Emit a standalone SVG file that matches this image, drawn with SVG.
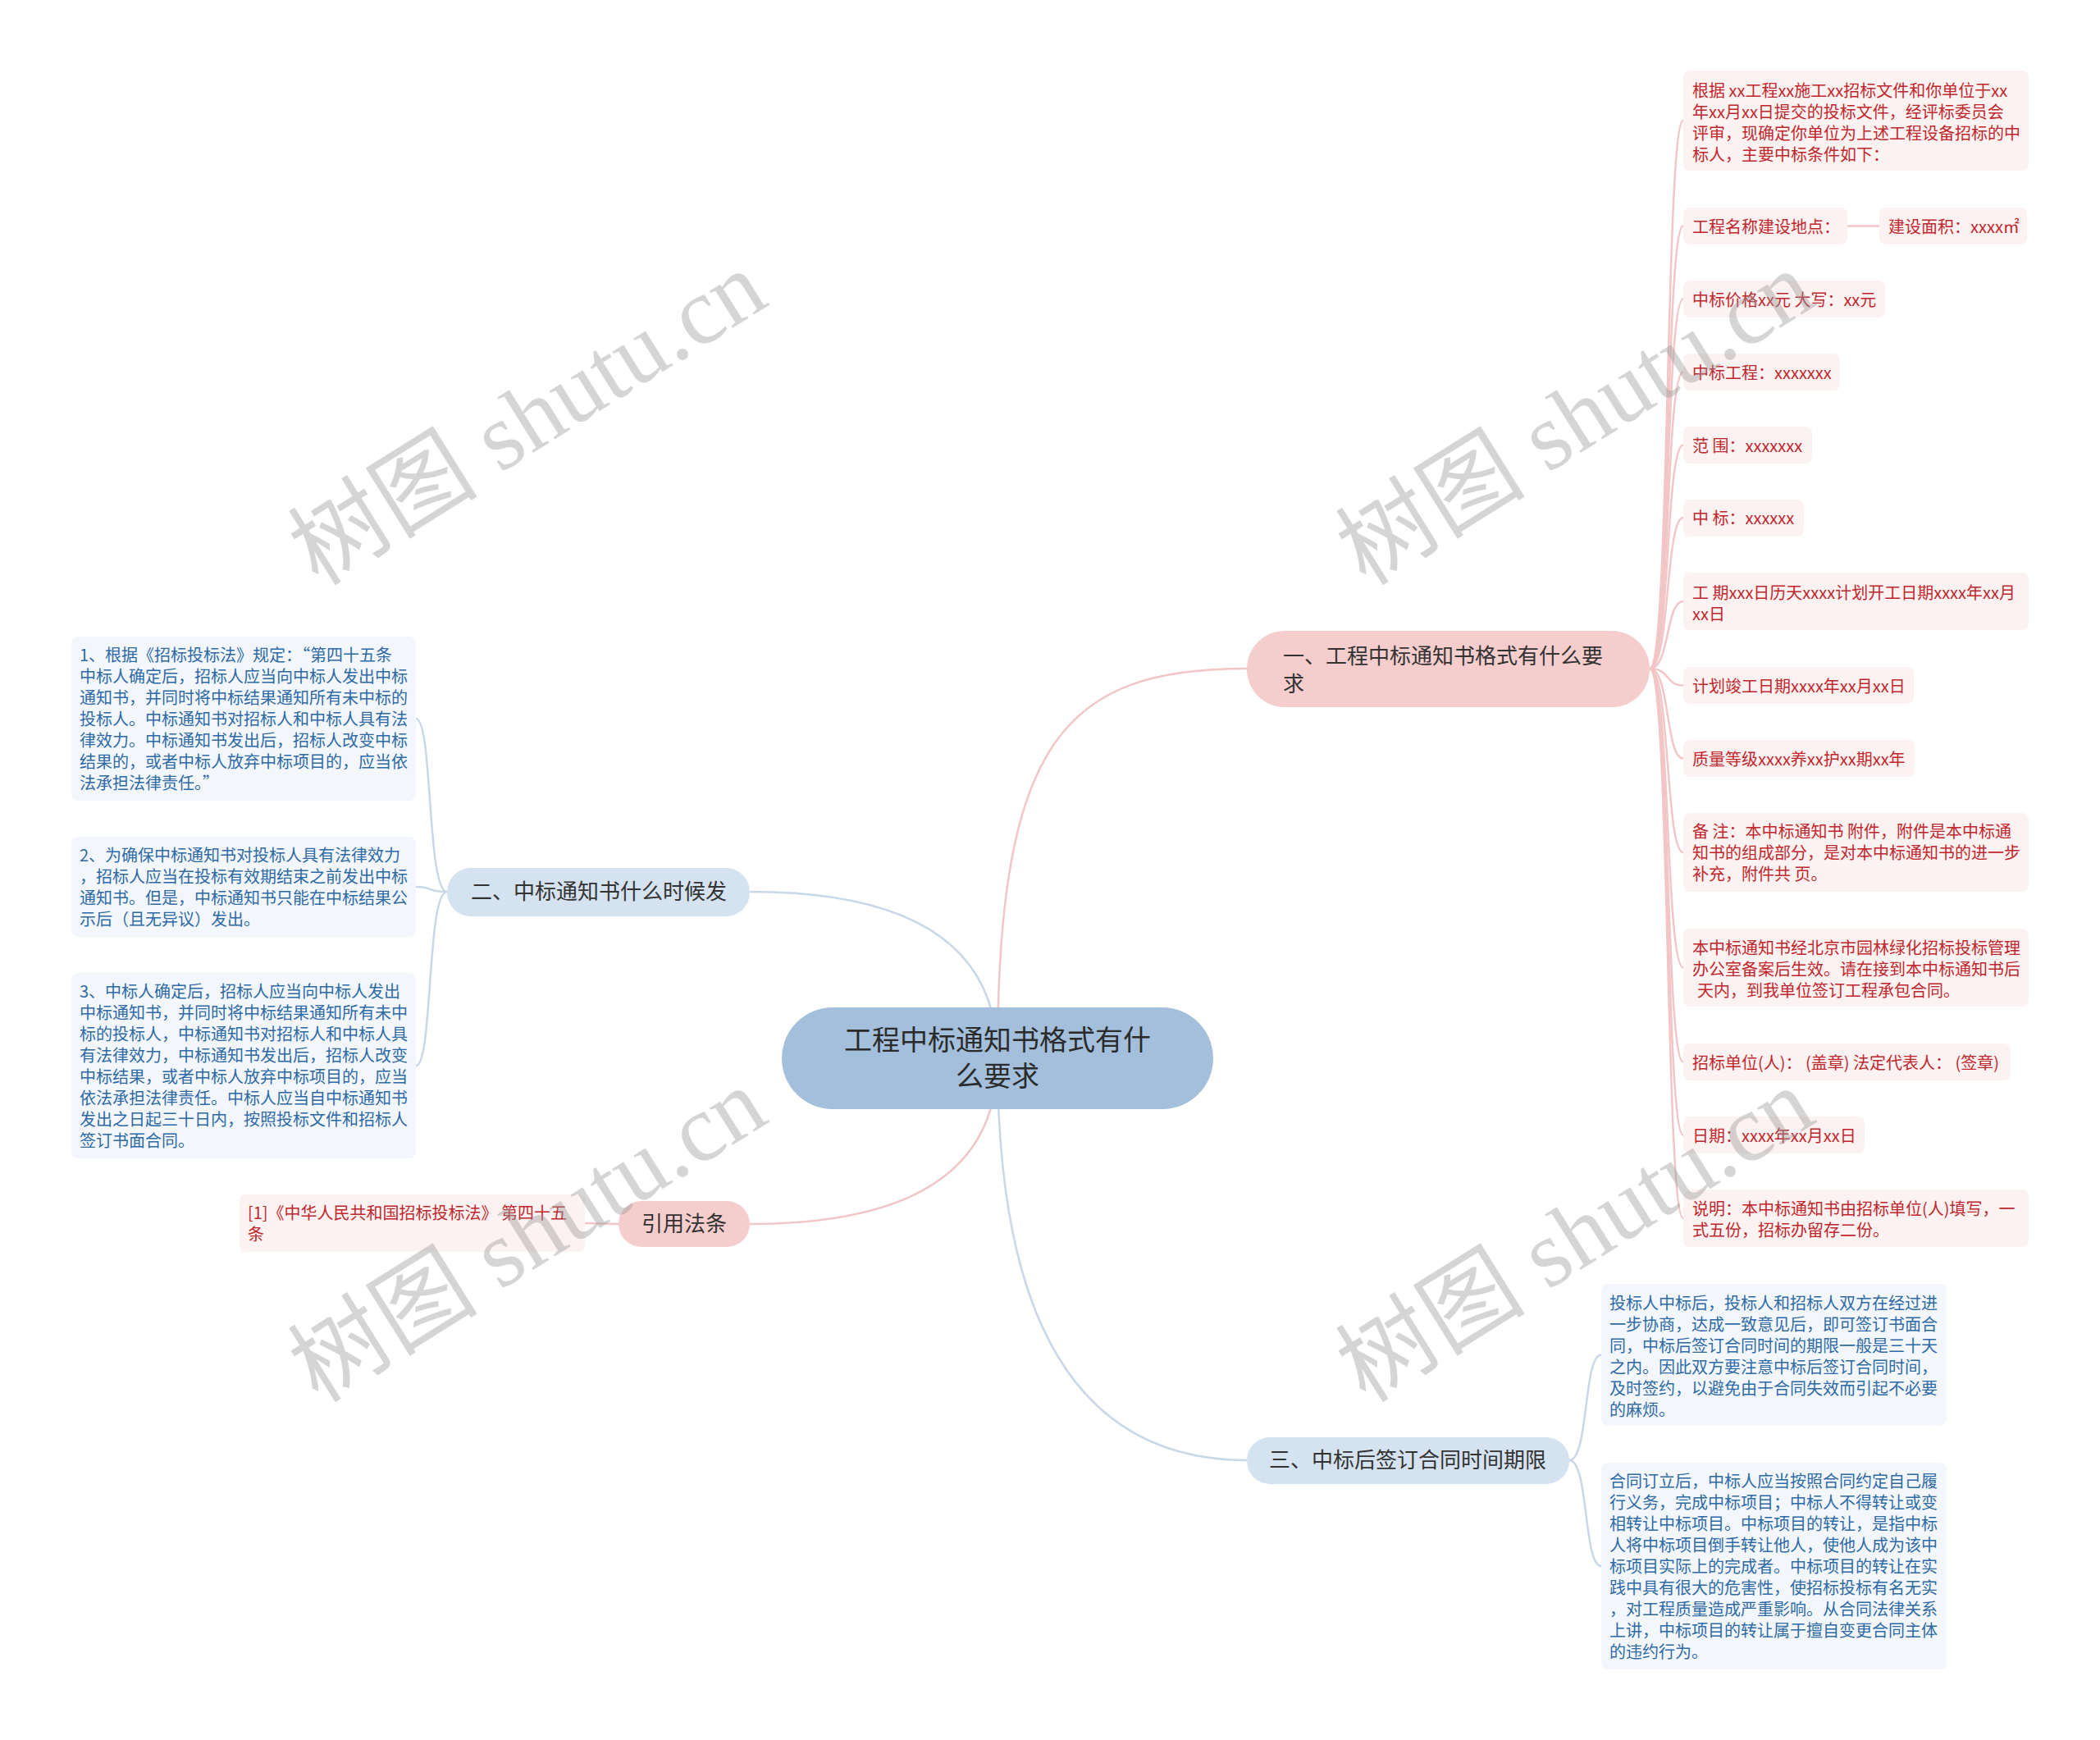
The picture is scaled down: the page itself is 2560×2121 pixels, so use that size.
<svg xmlns="http://www.w3.org/2000/svg" width="2560" height="2121" viewBox="0 0 2560 2121">
<style>
.bg{fill:#ffffff}
.cr{fill:none;stroke:#f2c6c6;stroke-width:2.5}
.cb{fill:none;stroke:#c9d8e8;stroke-width:2.5}
.root{fill:#a3bfdb}
.b1{fill:#f5cdcd}
.b2{fill:#d5e2f0}
.lr{fill:#fdf2f2}
.lb{fill:#f3f7fb}
text{font-family:"Noto Sans CJK SC","Noto Sans",sans-serif}
.tr{font-size:34px;fill:#2b2b2b;text-anchor:middle}
.tb{font-size:26px;fill:#333333}
.tbc{font-size:26px;fill:#333333;text-anchor:middle}
.tlr{font-size:20px;fill:#c0272d}
.tlb{font-size:20px;fill:#2e6aa6}
.wm{font-family:"Liberation Serif","Noto Sans CJK SC",serif;font-size:116px;fill:#9a9a9a;fill-opacity:0.42;text-anchor:middle}
</style>
<rect class="bg" x="0" y="0" width="2560" height="2121"/>
<g id="connectors">
<path class="cr" d="M1216,1290 C1216,900 1300,815 1520,815"/>
<path class="cb" d="M1216,1290 Q1216,1087 914,1087"/>
<path class="cr" d="M1216,1290 Q1216,1492 914,1492"/>
<path class="cb" d="M1216,1290 Q1216,1780 1520,1780"/>
<path class="cr" d="M2011,815 C2036,815 2030,147 2052,147"/>
<path class="cr" d="M2011,815 C2036,815 2030,275.5 2052,275.5"/>
<path class="cr" d="M2252,275.5 L2291,275.5"/>
<path class="cr" d="M2011,815 C2036,815 2030,364.5 2052,364.5"/>
<path class="cr" d="M2011,815 C2036,815 2030,453.5 2052,453.5"/>
<path class="cr" d="M2011,815 C2036,815 2030,542.5 2052,542.5"/>
<path class="cr" d="M2011,815 C2036,815 2030,631 2052,631"/>
<path class="cr" d="M2011,815 C2036,815 2030,733 2052,733"/>
<path class="cr" d="M2011,815 C2036,815 2030,835.5 2052,835.5"/>
<path class="cr" d="M2011,815 C2036,815 2030,924.5 2052,924.5"/>
<path class="cr" d="M2011,815 C2036,815 2030,1039 2052,1039"/>
<path class="cr" d="M2011,815 C2036,815 2030,1179.5 2052,1179.5"/>
<path class="cr" d="M2011,815 C2036,815 2030,1294.5 2052,1294.5"/>
<path class="cr" d="M2011,815 C2036,815 2030,1383.5 2052,1383.5"/>
<path class="cr" d="M2011,815 C2036,815 2030,1485 2052,1485"/>
<path class="cb" d="M545,1087 C520,1087 528,876 507,876"/>
<path class="cb" d="M545,1087 C520,1087 528,1081 507,1081"/>
<path class="cb" d="M545,1087 C520,1087 528,1299 507,1299"/>
<path class="cr" d="M754,1492 L713,1491"/>
<path class="cb" d="M1913,1780 C1937,1780 1930,1651.5 1952,1651.5"/>
<path class="cb" d="M1913,1780 C1937,1780 1930,1909 1952,1909"/>
</g>
<g id="root">
<rect class="root" x="953" y="1228" width="526" height="124" rx="62"/>
<text class="tr" x="1216" y="1280">工程中标通知书格式有什</text>
<text class="tr" x="1216" y="1324">么要求</text>
</g>
<g id="branch1">
<rect class="b1" x="1520" y="769" width="491" height="93" rx="46"/>
<text class="tb" x="1564" y="809">一、工程中标通知书格式有什么要</text>
<text class="tb" x="1564" y="843">求</text>
</g>
<g id="branch2">
<rect class="b2" x="545" y="1058" width="369" height="59" rx="29"/>
<text class="tbc" x="730" y="1096">二、中标通知书什么时候发</text>
</g>
<g id="branch-cite">
<rect class="b1" x="754" y="1464" width="160" height="56" rx="28"/>
<text class="tbc" x="834" y="1501">引用法条</text>
</g>
<g id="branch3">
<rect class="b2" x="1520" y="1752" width="393" height="57" rx="28"/>
<text class="tbc" x="1716" y="1789">三、中标后签订合同时间期限</text>
</g>
<g id="leaf-r1">
<rect class="lr" x="2052" y="86" width="421" height="122" rx="8"/>
<text class="tlr" x="2063" y="118">根据 xx工程xx施工xx招标文件和你单位于xx</text>
<text class="tlr" x="2063" y="144">年xx月xx日提交的投标文件，经评标委员会</text>
<text class="tlr" x="2063" y="170">评审，现确定你单位为上述工程设备招标的中</text>
<text class="tlr" x="2063" y="196">标人，主要中标条件如下：</text>
</g>
<g id="leaf-r2">
<rect class="lr" x="2052" y="253" width="200" height="45" rx="8"/>
<text class="tlr" x="2063" y="284">工程名称建设地点：</text>
</g>
<g id="leaf-r2b">
<rect class="lr" x="2291" y="253" width="180" height="45" rx="8"/>
<text class="tlr" x="2302" y="284">建设面积：xxxx㎡</text>
</g>
<g id="leaf-r3">
<rect class="lr" x="2052" y="342" width="246" height="45" rx="8"/>
<text class="tlr" x="2063" y="373">中标价格xx元 大写：xx元</text>
</g>
<g id="leaf-r4">
<rect class="lr" x="2052" y="431" width="191" height="45" rx="8"/>
<text class="tlr" x="2063" y="462">中标工程：xxxxxxx</text>
</g>
<g id="leaf-r5">
<rect class="lr" x="2052" y="520" width="157" height="45" rx="8"/>
<text class="tlr" x="2063" y="551">范 围：xxxxxxx</text>
</g>
<g id="leaf-r6">
<rect class="lr" x="2052" y="609" width="147" height="45" rx="8"/>
<text class="tlr" x="2063" y="639">中 标：xxxxxx</text>
</g>
<g id="leaf-r7">
<rect class="lr" x="2052" y="698" width="421" height="70" rx="8"/>
<text class="tlr" x="2063" y="730">工 期xxx日历天xxxx计划开工日期xxxx年xx月</text>
<text class="tlr" x="2063" y="756">xx日</text>
</g>
<g id="leaf-r8">
<rect class="lr" x="2052" y="813" width="281" height="45" rx="8"/>
<text class="tlr" x="2063" y="844">计划竣工日期xxxx年xx月xx日</text>
</g>
<g id="leaf-r9">
<rect class="lr" x="2052" y="902" width="282" height="45" rx="8"/>
<text class="tlr" x="2063" y="933">质量等级xxxx养xx护xx期xx年</text>
</g>
<g id="leaf-r10">
<rect class="lr" x="2052" y="991" width="421" height="96" rx="8"/>
<text class="tlr" x="2063" y="1021">备 注：本中标通知书 附件，附件是本中标通</text>
<text class="tlr" x="2063" y="1047">知书的组成部分，是对本中标通知书的进一步</text>
<text class="tlr" x="2063" y="1073">补充，附件共 页。</text>
</g>
<g id="leaf-r11">
<rect class="lr" x="2052" y="1132" width="421" height="95" rx="8"/>
<text class="tlr" x="2063" y="1163">本中标通知书经北京市园林绿化招标投标管理</text>
<text class="tlr" x="2063" y="1189">办公室备案后生效。请在接到本中标通知书后</text>
<text class="tlr" x="2069" y="1215">天内，到我单位签订工程承包合同。</text>
</g>
<g id="leaf-r12">
<rect class="lr" x="2052" y="1272" width="399" height="45" rx="8"/>
<text class="tlr" x="2063" y="1303">招标单位(人)： (盖章) 法定代表人： (签章)</text>
</g>
<g id="leaf-r13">
<rect class="lr" x="2052" y="1361" width="221" height="45" rx="8"/>
<text class="tlr" x="2063" y="1392">日期：xxxx年xx月xx日</text>
</g>
<g id="leaf-r14">
<rect class="lr" x="2052" y="1450" width="421" height="70" rx="8"/>
<text class="tlr" x="2063" y="1481">说明：本中标通知书由招标单位(人)填写，一</text>
<text class="tlr" x="2063" y="1507">式五份，招标办留存二份。</text>
</g>
<g id="leaf-l1">
<rect class="lb" x="87" y="776" width="420" height="200" rx="8"/>
<text class="tlb" x="97" y="806">1、根据《招标投标法》规定：“第四十五条</text>
<text class="tlb" x="97" y="832">中标人确定后，招标人应当向中标人发出中标</text>
<text class="tlb" x="97" y="858">通知书，并同时将中标结果通知所有未中标的</text>
<text class="tlb" x="97" y="884">投标人。中标通知书对招标人和中标人具有法</text>
<text class="tlb" x="97" y="910">律效力。中标通知书发出后，招标人改变中标</text>
<text class="tlb" x="97" y="936">结果的，或者中标人放弃中标项目的，应当依</text>
<text class="tlb" x="97" y="962">法承担法律责任。”</text>
</g>
<g id="leaf-l2">
<rect class="lb" x="87" y="1020" width="420" height="122" rx="8"/>
<text class="tlb" x="97" y="1050">2、为确保中标通知书对投标人具有法律效力</text>
<text class="tlb" x="97" y="1076">，招标人应当在投标有效期结束之前发出中标</text>
<text class="tlb" x="97" y="1102">通知书。但是，中标通知书只能在中标结果公</text>
<text class="tlb" x="97" y="1128">示后（且无异议）发出。</text>
</g>
<g id="leaf-l3">
<rect class="lb" x="87" y="1186" width="420" height="226" rx="8"/>
<text class="tlb" x="97" y="1216">3、中标人确定后，招标人应当向中标人发出</text>
<text class="tlb" x="97" y="1242">中标通知书，并同时将中标结果通知所有未中</text>
<text class="tlb" x="97" y="1268">标的投标人，中标通知书对招标人和中标人具</text>
<text class="tlb" x="97" y="1294">有法律效力，中标通知书发出后，招标人改变</text>
<text class="tlb" x="97" y="1320">中标结果，或者中标人放弃中标项目的，应当</text>
<text class="tlb" x="97" y="1346">依法承担法律责任。中标人应当自中标通知书</text>
<text class="tlb" x="97" y="1372">发出之日起三十日内，按照投标文件和招标人</text>
<text class="tlb" x="97" y="1398">签订书面合同。</text>
</g>
<g id="leaf-cite">
<rect class="lr" x="292" y="1456" width="421" height="70" rx="8"/>
<text class="tlr" x="302" y="1486">[1]《中华人民共和国招标投标法》 第四十五</text>
<text class="tlr" x="302" y="1512">条</text>
</g>
<g id="leaf-b3a">
<rect class="lb" x="1952" y="1565" width="421" height="173" rx="8"/>
<text class="tlb" x="1962" y="1596">投标人中标后，投标人和招标人双方在经过进</text>
<text class="tlb" x="1962" y="1622">一步协商，达成一致意见后，即可签订书面合</text>
<text class="tlb" x="1962" y="1648">同，中标后签订合同时间的期限一般是三十天</text>
<text class="tlb" x="1962" y="1674">之内。因此双方要注意中标后签订合同时间，</text>
<text class="tlb" x="1962" y="1700">及时签约，以避免由于合同失效而引起不必要</text>
<text class="tlb" x="1962" y="1726">的麻烦。</text>
</g>
<g id="leaf-b3b">
<rect class="lb" x="1952" y="1783" width="421" height="252" rx="8"/>
<text class="tlb" x="1962" y="1813">合同订立后，中标人应当按照合同约定自己履</text>
<text class="tlb" x="1962" y="1839">行义务，完成中标项目；中标人不得转让或变</text>
<text class="tlb" x="1962" y="1865">相转让中标项目。中标项目的转让，是指中标</text>
<text class="tlb" x="1962" y="1891">人将中标项目倒手转让他人，使他人成为该中</text>
<text class="tlb" x="1962" y="1917">标项目实际上的完成者。中标项目的转让在实</text>
<text class="tlb" x="1962" y="1943">践中具有很大的危害性，使招标投标有名无实</text>
<text class="tlb" x="1962" y="1969">，对工程质量造成严重影响。从合同法律关系</text>
<text class="tlb" x="1962" y="1995">上讲，中标项目的转让属于擅自变更合同主体</text>
<text class="tlb" x="1962" y="2021">的违约行为。</text>
</g>
<g id="watermarks">
<text class="wm" transform="translate(664,543) rotate(-32)">树图 shutu.cn</text>
<text class="wm" transform="translate(1941,543) rotate(-32)">树图 shutu.cn</text>
<text class="wm" transform="translate(664,1539) rotate(-32)">树图 shutu.cn</text>
<text class="wm" transform="translate(1941,1539) rotate(-32)">树图 shutu.cn</text>
</g>
</svg>
